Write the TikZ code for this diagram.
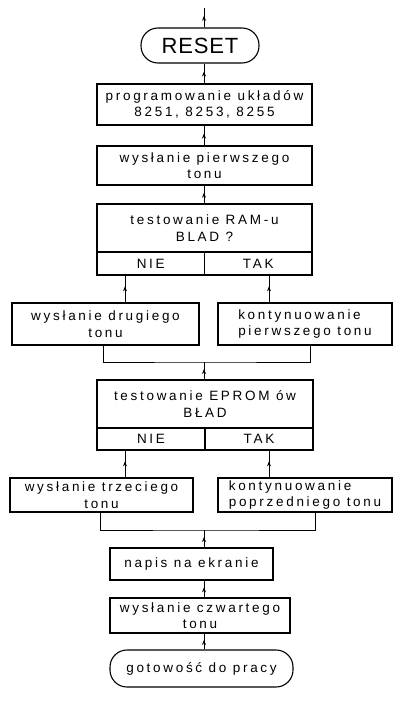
\documentclass[tikz,border=0pt]{standalone}
\usepackage{fontspec}
\setmainfont[LetterSpace=20]{Liberation Sans}
\usetikzlibrary{arrows.meta,decorations.markings}
\tikzstyle{box}=[draw,line width=1.1pt,rectangle,inner sep=0pt,align=center]
\tikzstyle{term}=[box,rounded corners=17pt]
\tikzstyle{flow}=[line width=0.8pt,postaction={decorate},
	decoration={markings,mark=at position 0.6 with {\arrow{Stealth[length=5pt,width=4pt]}}}]
\tikzstyle{mergeline}=[line width=0.8pt]

\begin{document}
\begin{tikzpicture}[x=1pt,y=-1pt,font=\fontsize{13.5}{16.5}\selectfont]
		\useasboundingbox (0,0) rectangle (395,706);
		\coordinate (col) at (204,0);
		\coordinate (top) at (204,8);
		\coordinate (niex) at (125,0);
		\coordinate (takx) at (269,0);

		% start
		\node[term,minimum width=118pt,minimum height=35pt,
			font=\fontsize{22}{24}\selectfont\addfontfeature{LetterSpace=4}] (reset) at (200,45.5) {RESET};
		\node[box,minimum width=215pt,minimum height=41pt] (prog) at (204.5,104.5)
			{programowanie układów\\8251, 8253, 8255};
		\node[box,minimum width=215pt,minimum height=39pt] (ton1) at (204.5,165.5)
			{wysłanie pierwszego\\tonu};

		% RAM test
		\node[box,minimum width=215pt,minimum height=48pt] (ram) at (204.5,228)
			{testowanie RAM-u\\BLAD ?};
		\node[box,minimum width=107.5pt,minimum height=23pt] (ramnie) at (150.75,263.5) {NIE};
		\node[box,minimum width=107.5pt,minimum height=23pt] (ramtak) at (258.25,263.5) {TAK};
		\node[box,minimum width=187pt,minimum height=42pt] (ton2) at (105.5,324)
			{wysłanie drugiego\\tonu};
		\node[box,align=left,minimum width=174pt,minimum height=42pt] (kont1) at (305,324)
			{kontynuowanie\\pierwszego tonu};
		\coordinate (merge1) at (204,362);

		% EPROM test
		\node[box,minimum width=216pt,minimum height=48pt] (eprom) at (205,404)
			{testowanie EPROM ów\\BŁAD};
		\node[box,minimum width=108pt,minimum height=22pt] (epromnie) at (151,439) {NIE};
		\node[box,minimum width=108pt,minimum height=22pt] (epromtak) at (259,439) {TAK};
		\node[box,minimum width=183pt,minimum height=34pt] (ton3) at (101.5,495)
			{wysłanie trzeciego\\tonu};
		\node[box,align=left,minimum width=174pt,minimum height=34pt] (kont2) at (305,495)
			{kontynuowanie\\poprzedniego tonu};
		\coordinate (merge2) at (204,530);

		% end
		\node[box,minimum width=163pt,minimum height=32pt] (napis) at (191.5,564)
			{napis na ekranie};
		\node[box,minimum width=180pt,minimum height=35pt] (ton4) at (200,615.5)
			{wysłanie czwartego\\tonu};
		\node[term,minimum width=183pt,minimum height=37pt] (gotowe) at (201.5,668.5)
			{gotowość do pracy};

		% connectors
		\draw[flow] (reset.north -| top) -- (top);
		\draw[flow] (prog.north -| col) -- (reset.south -| col);
		\draw[flow] (ton1.north -| col) -- (prog.south -| col);
		\draw[flow] (ram.north -| col) -- (ton1.south -| col);
		\draw[flow] (ton2.north -| niex) -- (ramnie.south -| niex);
		\draw[flow] (kont1.north -| takx) -- (ramtak.south -| takx);
		\draw[mergeline] ([xshift=-2pt]ton2.south) |- (merge1) -| ([xshift=5pt]kont1.south);
		\draw[flow] (eprom.north -| col) -- (merge1);
		\draw[flow] (ton3.north -| niex) -- (epromnie.south -| niex);
		\draw[flow] (kont2.north -| takx) -- (epromtak.south -| takx);
		\draw[mergeline] ([xshift=-1.5pt]ton3.south) |- (merge2) -| ([xshift=10pt]kont2.south);
		\draw[flow] (napis.north -| col) -- (merge2);
		\draw[flow] (ton4.north -| col) -- (napis.south -| col);
		\draw[flow] (gotowe.north -| col) -- (ton4.south -| col);
	\end{tikzpicture}
\end{document}
